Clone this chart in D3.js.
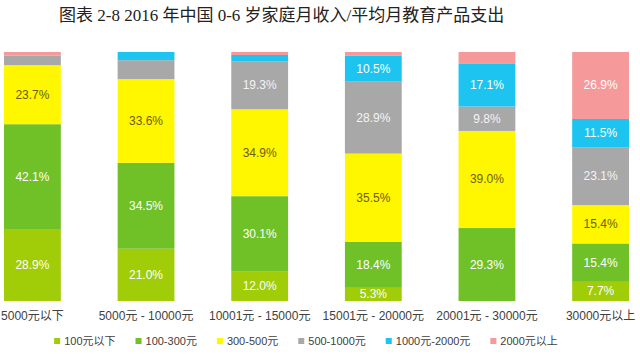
<html>
<head>
<meta charset="utf-8">
<script src="https://cdn.jsdelivr.net/npm/d3@7"></script>
<style>
    body { margin: 0; background: white; }
    text { font-family: "Liberation Sans", "Noto Sans CJK SC", sans-serif; }
</style>
</head>
<body>
<svg id="container" width="640" height="354"></svg>
<script>
    // data
    let categories = ["5000元以下", "5000元 - 10000元", "10001元 - 15000元", "15001元 - 20000元", "20001元 - 30000元", "30000元以上"]
    let seriesNames = ["100元以下", "100-300元", "300-500元", "500-1000元", "1000元-2000元", "2000元以上"]
    let below100 = [28.9, 21.0, 12.0, 5.3, 0, 7.7]
    let from100to300 = [42.1, 34.5, 30.1, 18.4, 29.3, 15.4]
    let from300to500 = [23.7, 33.6, 34.9, 35.5, 39.0, 15.4]
    let from500to1000 = [3.8, 7.6, 19.3, 28.9, 9.8, 23.1]
    let from1000to2000 = [0, 3.3, 2.5, 10.5, 17.1, 11.5]
    let above2000 = [1.5, 0, 1.2, 1.4, 4.8, 26.9]
    // segments that carry no label in the original
    let unlabeled = ["5000元 - 10000元|500-1000元"]

    let colors = ["#a0cc08", "#70c028", "#fff700", "#a8a8a8", "#1cc4ef", "#f5999b"]
    let labelColors = ["#ffffff", "#ffffff", "#6e5c0c", "#f4f4f4", "#ffffff", "#ffffff"]

    let allSeries = [below100, from100to300, from300to500, from500to1000, from1000to2000, above2000]
    let table = categories.map((c, i) => {
        let row = { category: c }
        seriesNames.forEach((s, j) => row[s] = allSeries[j][i])
        return row
    })

    let svg = d3.select("#container")

    svg.append("text")
        .attr("x", 59)
        .attr("y", 21)
        .attr("font-size", 17)
        .attr("fill", "#222")
        .style("font-family", "'Liberation Serif', 'Noto Sans CJK SC', serif")
        .text("图表 2-8 2016 年中国 0-6 岁家庭月收入/平均月教育产品支出")

    let x = d3.scaleBand()
        .domain(categories)
        .range([4, 629])
        .paddingInner(0.5)
        .paddingOuter(0)

    let y = d3.scaleLinear()
        .domain([0, 100])
        .range([301, 52])

    let stack = d3.stack().keys(seriesNames)
    let layers = stack(table)

    let color = d3.scaleOrdinal().domain(seriesNames).range(colors)
    let labelColor = d3.scaleOrdinal().domain(seriesNames).range(labelColors)

    let groups = svg.selectAll(".layer")
        .data(layers)
        .enter().append("g")
        .attr("class", "layer")
        .attr("fill", d => color(d.key))

    groups.selectAll("rect")
        .data(d => d)
        .enter().append("rect")
        .attr("x", d => x(d.data.category))
        .attr("y", d => y(d[1]))
        .attr("width", x.bandwidth())
        .attr("height", d => y(d[0]) - y(d[1]))

    groups.each(function (layer) {
        d3.select(this).selectAll("text")
            .data(layer.filter(d => (d[1] - d[0]) >= 5 && !unlabeled.includes(d.data.category + "|" + layer.key)))
            .enter().append("text")
            .attr("x", d => x(d.data.category) + x.bandwidth() / 2)
            .attr("y", d => (y(d[0]) + y(d[1])) / 2)
            .attr("text-anchor", "middle")
            .attr("dominant-baseline", "central")
            .attr("font-size", 12)
            .attr("fill", labelColor(layer.key))
            .text(d => (d[1] - d[0]).toFixed(1) + "%")
    })

    let xAxis = svg.append("g")
        .attr("transform", "translate(0, 311)")
        .call(d3.axisBottom(x).tickSize(0).tickPadding(0))
    xAxis.select(".domain").remove()
    xAxis.selectAll("text")
        .attr("font-size", 12)
        .attr("fill", "#404040")
        .style("font-family", "'Liberation Sans', 'Noto Sans CJK SC', sans-serif")

    // legend
    let legend = svg.append("g")
    let items = legend.selectAll(".item")
        .data(seriesNames)
        .enter().append("g")
        .attr("class", "item")
    items.append("rect")
        .attr("y", 338)
        .attr("width", 6)
        .attr("height", 6)
        .attr("fill", d => color(d))
    items.append("text")
        .attr("x", 10)
        .attr("y", 341)
        .attr("dominant-baseline", "central")
        .attr("font-size", 11)
        .attr("fill", "#404040")
        .text(d => d)

    let pos = 0
    items.each(function () {
        let w = 10 + d3.select(this).select("text").node().getComputedTextLength()
        d3.select(this).attr("transform", "translate(" + pos + ",0)")
        pos += w + 20
    })
    let legendWidth = pos - 20
    legend.attr("transform", "translate(" + (306 - legendWidth / 2) + ",0)")
</script>
</body>
</html>
